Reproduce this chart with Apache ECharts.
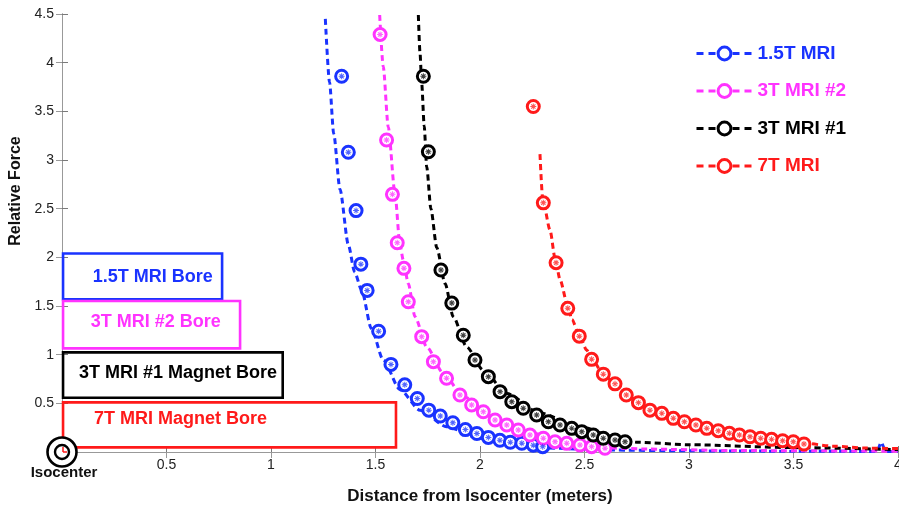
<!DOCTYPE html>
<html><head><meta charset="utf-8">
<script src="https://cdn.jsdelivr.net/npm/echarts@6/dist/echarts.min.js"></script>
<style>html,body{margin:0;padding:0;background:#fff}#c{width:899px;height:507px}</style>
</head><body><div id="c"></div>
<script>
const FONT = '"Liberation Sans", Arial, Helvetica, sans-serif';
const seriesNames = ['1.5T MRI', '3T MRI #2', '3T MRI #1', '7T MRI'];
const seriesColors = ['#1a33ff', '#ff33ff', '#000000', '#ff1a1a'];

// measured points (markers)
const markers15 = [[1.338,3.86],[1.37,3.08],[1.407,2.48],[1.43,1.93],[1.46,1.66],[1.515,1.24],[1.574,0.90],[1.64,0.69],[1.70,0.55],[1.755,0.43],[1.81,0.37],[1.87,0.30],[1.93,0.23],[1.985,0.19],[2.04,0.15],[2.095,0.12],[2.145,0.10],[2.20,0.09],[2.255,0.07],[2.30,0.055]];
const markers3b = [[1.522,4.29],[1.553,3.205],[1.581,2.647],[1.604,2.15],[1.636,1.887],[1.657,1.544],[1.721,1.185],[1.777,0.928],[1.84,0.757],[1.904,0.586],[1.96,0.483],[2.016,0.414],[2.072,0.329],[2.128,0.277],[2.183,0.226],[2.239,0.175],[2.303,0.141],[2.359,0.106],[2.415,0.089],[2.478,0.072],[2.534,0.055],[2.598,0.038]];
const markers3a = [[1.729,3.86],[1.753,3.085],[1.813,1.87],[1.865,1.53],[1.92,1.20],[1.976,0.945],[2.04,0.774],[2.096,0.62],[2.152,0.517],[2.207,0.449],[2.271,0.38],[2.327,0.311],[2.383,0.277],[2.439,0.243],[2.487,0.209],[2.542,0.175],[2.59,0.141],[2.646,0.123],[2.694,0.106]];
const markers7 = [[2.255,3.55],[2.303,2.56],[2.364,1.945],[2.42,1.476],[2.475,1.19],[2.534,0.952],[2.59,0.80],[2.646,0.70],[2.70,0.585],[2.758,0.507],[2.813,0.43],[2.87,0.397],[2.925,0.346],[2.978,0.311],[3.033,0.277],[3.085,0.243],[3.14,0.219],[3.193,0.192],[3.241,0.175],[3.292,0.157],[3.343,0.141],[3.395,0.130],[3.448,0.116],[3.499,0.106],[3.55,0.082]];

// model curves (dashed)
const curve15 = [[1.26,4.45],[1.28,3.8],[1.30,3.27],[1.33,2.7],[1.37,2.13],[1.40,1.85],[1.434,1.66],[1.48,1.27],[1.537,0.945],[1.617,0.64],[1.713,0.43],[1.84,0.26],[2.0,0.14],[2.16,0.072],[2.32,0.04],[2.6,0.02],[3.0,0.012],[3.5,0.008],[3.90,0.006],[3.92,0.10],[3.94,0.006],[4.0,0.005]];
const curve3b = [[1.52,4.49],[1.537,3.96],[1.561,3.34],[1.593,2.66],[1.617,2.13],[1.633,1.97],[1.657,1.73],[1.689,1.39],[1.745,1.08],[1.824,0.81],[1.92,0.57],[2.064,0.36],[2.255,0.19],[2.478,0.09],[2.64,0.04],[2.8,0.03],[3.2,0.015],[4.0,0.008]];
const curve3a = [[1.705,4.49],[1.713,4.1],[1.721,3.79],[1.733,3.35],[1.745,2.93],[1.765,2.5],[1.793,2.1],[1.833,1.73],[1.872,1.39],[1.936,1.08],[2.016,0.84],[2.128,0.60],[2.287,0.40],[2.478,0.26],[2.64,0.16],[2.75,0.10],[3.0,0.075],[3.5,0.045],[4.0,0.025]];
const curve7 = [[2.287,3.06],[2.30,2.6],[2.335,2.28],[2.36,1.98],[2.383,1.77],[2.42,1.5],[2.44,1.36],[2.475,1.2],[2.51,1.05],[2.534,0.96],[2.59,0.80],[2.65,0.69],[2.70,0.59],[2.76,0.51],[2.81,0.44],[2.87,0.39],[2.93,0.34],[3.03,0.275],[3.14,0.22],[3.24,0.175],[3.34,0.14],[3.45,0.115],[3.55,0.09],[3.69,0.06],[3.85,0.04],[4.0,0.035]];

const markerSets = [markers15, markers3b, markers3a, markers7];
const curveSets = [curve15, curve3b, curve3a, curve7];

// bore boxes (data coordinates)
const boxLabels = ['1.5T MRI Bore', '3T MRI #2 Bore', '3T MRI #1 Magnet Bore', '7T MRI Magnet Bore'];
const boxX0 = [0.005, 0.005, 0.005, 0.005];
const boxX1 = [0.766, 0.852, 1.056, 1.598];
const boxY0 = [1.57, 1.065, 0.558, 0.048];
const boxY1 = [2.04, 1.551, 1.024, 0.51];
const boxTextX = [0.147, 0.137, 0.081, 0.153];
const boxTextY = [1.80, 1.336, 0.81, 0.34];

const isocenter = [[0, 0]];
const xTicks = { min: 0, max: 4, interval: 0.5 };
const yTicks = { min: 0, max: 4.5, interval: 0.5 };

const asteriskPath = 'path://M-0.5,-3 L0.5,-3 L0.5,3 L-0.5,3 Z M-3,-0.5 L3,-0.5 L3,0.5 L-3,0.5 Z M-2.47,-1.77 L-1.77,-2.47 L2.47,1.77 L1.77,2.47 Z M1.77,-2.47 L2.47,-1.77 L-1.77,2.47 L-2.47,1.77 Z';

const chart = echarts.init(document.getElementById('c'));
const axisGray = '#7a7a7a';

const series = [];
// dashed curves
curveSets.forEach((c, i) => {
  series.push({
    name: seriesNames[i] + ' model', type: 'line', data: c, symbol: 'none',
    smooth: 0.25, smoothMonotone: 'x',
    lineStyle: { color: seriesColors[i], width: 3, type: [6, 4] },
    z: 2, silent: true
  });
});
// markers
markerSets.forEach((m, i) => {
  series.push({
    name: seriesNames[i], type: 'line', data: m, symbol: 'circle', symbolSize: 12,
    showAllSymbol: true,
    itemStyle: { color: '#ffffff', borderColor: seriesColors[i], borderWidth: 3 },
    lineStyle: { width: 0, color: seriesColors[i], type: [6, 4] },
    z: 3
  });
  series.push({
    name: seriesNames[i] + ' star', type: 'scatter', data: m, symbol: asteriskPath, symbolSize: 6,
    itemStyle: { color: seriesColors[i], opacity: 0.75 }, z: 4, silent: true
  });
});
// bore boxes
series.push({
  name: 'bores', type: 'custom', clip: false, z: 5, silent: true,
  data: boxLabels.map((l, i) => [boxX0[i], boxX1[i], boxY0[i], boxY1[i], boxTextX[i], boxTextY[i]]),
  encode: { x: [0, 1, 4], y: [2, 3, 5] },
  renderItem: (params, api) => {
    const i = params.dataIndex;
    const tl = api.coord([api.value(0), api.value(3)]);
    const br = api.coord([api.value(1), api.value(2)]);
    const tp = api.coord([api.value(4), api.value(5)]);
    return {
      type: 'group',
      children: [
        { type: 'rect', shape: { x: tl[0], y: tl[1], width: br[0] - tl[0], height: br[1] - tl[1] },
          style: { fill: null, stroke: seriesColors[i], lineWidth: 2.6 } },
        { type: 'text', x: tp[0], y: tp[1],
          style: { text: boxLabels[i], fill: seriesColors[i], font: 'bold 18px ' + FONT, textAlign: 'left', textVerticalAlign: 'middle' } }
      ]
    };
  }
});
// isocenter
series.push({
  name: 'isocenter', type: 'custom', clip: false, z: 6, silent: true,
  data: isocenter,
  renderItem: (params, api) => {
    const p = api.coord([api.value(0), api.value(1)]);
    return {
      type: 'group',
      children: [
        { type: 'circle', shape: { cx: p[0], cy: p[1], r: 14.5 }, style: { fill: '#fff', stroke: '#000', lineWidth: 2.6 } },
        { type: 'circle', shape: { cx: p[0], cy: p[1], r: 7 }, style: { fill: null, stroke: '#000', lineWidth: 2.4 } },
        { type: 'line', shape: { x1: p[0] + 1, y1: p[1] - 5, x2: p[0] + 1, y2: p[1] }, style: { stroke: '#ff1a1a', lineWidth: 1.5 } },
        { type: 'line', shape: { x1: p[0] + 1, y1: p[1], x2: p[0] + 5, y2: p[1] }, style: { stroke: '#ff1a1a', lineWidth: 1.5 } },
        { type: 'text', x: p[0] + 2, y: p[1] + 21,
          style: { text: 'Isocenter', fill: '#111', font: 'bold 15px ' + FONT, textAlign: 'center', textVerticalAlign: 'middle' } }
      ]
    };
  }
});

chart.setOption({
  animation: false,
  backgroundColor: '#ffffff',
  grid: { left: 62, right: 1, top: 14, bottom: 55, outerBoundsMode: 'none', containLabel: false },
  legend: {
    orient: 'vertical', left: 690, top: 38.5,
    itemWidth: 56, itemHeight: 16, itemGap: 17.5,
    textStyle: { fontFamily: FONT, fontWeight: 'bold', fontSize: 19, lineHeight: 20 },
    data: seriesNames.map((n, i) => ({
      name: n,
      textStyle: { color: seriesColors[i] },
      lineStyle: { color: seriesColors[i], width: 3, type: [7, 5], opacity: 1 },
      itemStyle: { color: '#ffffff', borderColor: seriesColors[i], borderWidth: 3 }
    }))
  },
  xAxis: [{
    type: 'value', min: xTicks.min, max: xTicks.max, interval: xTicks.interval,
    name: 'Distance from Isocenter (meters)', nameLocation: 'middle', nameGap: 36,
    nameTextStyle: { fontFamily: FONT, fontWeight: 'bold', fontSize: 17, color: '#111' },
    axisLine: { lineStyle: { color: axisGray, width: 1 } },
    axisTick: { inside: true, length: 6, lineStyle: { color: axisGray } },
    axisLabel: { fontFamily: FONT, fontSize: 14, color: '#222', margin: 6,
      formatter: v => v === 0 ? '' : String(v) },
    splitLine: { show: false }
  }, {
    type: 'value', position: 'top', min: xTicks.min, max: xTicks.max, interval: xTicks.interval,
    axisLine: { show: true, lineStyle: { color: '#999' } },
    axisTick: { inside: true, length: 6, lineStyle: { color: '#999' } },
    axisLabel: { show: false }, splitLine: { show: false }
  }],
  yAxis: [{
    type: 'value', min: yTicks.min, max: yTicks.max, interval: yTicks.interval,
    name: 'Relative Force', nameLocation: 'middle', nameGap: 35,
    nameTextStyle: { fontFamily: FONT, fontWeight: 'bold', fontSize: 16, color: '#111', padding: [0, 0, 0, 84] },
    axisLine: { show: true, lineStyle: { color: axisGray, width: 1 } },
    axisTick: { show: true, inside: true, length: 6, lineStyle: { color: axisGray } },
    axisLabel: { fontFamily: FONT, fontSize: 14, color: '#222', margin: 8,
      formatter: v => v === 0 ? '' : String(v) },
    splitLine: { show: false }
  }, {
    type: 'value', position: 'right', min: yTicks.min, max: yTicks.max, interval: yTicks.interval,
    axisLine: { show: true, lineStyle: { color: '#999' } },
    axisTick: { show: true, inside: true, length: 6, lineStyle: { color: '#999' } },
    axisLabel: { show: false }, splitLine: { show: false }
  }],
  series: series
});
</script>
</body></html>
